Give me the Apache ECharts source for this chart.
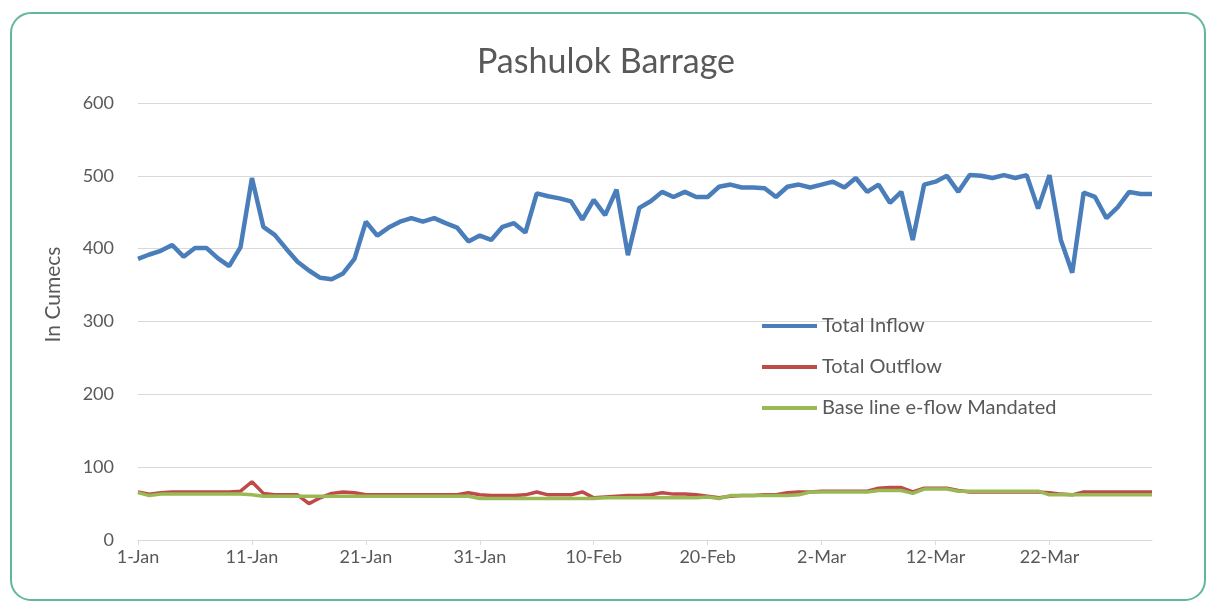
<!DOCTYPE html>
<html>
<head>
<meta charset="utf-8">
<title>Pashulok Barrage</title>
<script src="https://cdn.jsdelivr.net/npm/echarts@6/dist/echarts.min.js"></script>
<style>
  html, body { margin: 0; padding: 0; background: #fff; }
  #main { width: 1212px; height: 603px; }
</style>
</head>
<body>
<div id="main"></div>
<script>
// 日期: 1-Jan ~ 31-Mar
const months = ['Jan', 'Feb', 'Mar']
const monthDays = [31, 28, 31]
const dates = []
months.forEach((m, i) => {
  for (let d = 1; d <= monthDays[i]; d++) dates.push(d + '-' + m)
})

const yTicks = [0, 100, 200, 300, 400, 500, 600]

const totalInflow = [
  386, 392, 397, 405, 389, 401, 401, 387, 376, 402,
  497, 430, 419, 400, 382, 370, 360, 358, 366, 386,
  437, 418, 429, 437, 442, 437, 442, 435, 429, 410,
  418, 412, 430, 435, 422, 476, 472, 469, 465, 440,
  467, 446, 481, 391, 456, 465, 478, 471, 478, 471,
  471, 485, 488, 484, 484, 483, 471, 485, 488, 484,
  488, 492, 484, 497, 478, 488, 463, 478, 412, 488,
  492, 500, 478, 501, 500, 497, 501, 497, 501, 455,
  501, 412, 367, 477, 471, 442, 457, 478, 475, 475
]

const totalOutflow = [
  66, 63, 65, 66, 66, 66, 66, 66, 66, 67,
  80, 64, 62, 62, 62, 50, 58, 64, 66, 65,
  62, 62, 62, 62, 62, 62, 62, 62, 62, 65,
  62, 61, 61, 61, 62, 66, 62, 62, 62, 66,
  58, 59, 60, 61, 61, 62, 65, 63, 63, 62,
  60, 58, 60, 61, 61, 62, 62, 65, 66, 66,
  67, 67, 67, 67, 67, 71, 72, 72, 66, 71,
  71, 71, 68, 66, 66, 66, 66, 66, 66, 66,
  65, 63, 62, 66, 66, 66, 66, 66, 66, 66
]

const baseline = [
  65, 61, 63, 63, 63, 63, 63, 63, 63, 63,
  62, 60, 60, 60, 60, 60, 60, 60, 60, 60,
  60, 60, 60, 60, 60, 60, 60, 60, 60, 60,
  57, 57, 57, 57, 57, 57, 57, 57, 57, 57,
  57, 58, 58, 58, 58, 58, 58, 58, 58, 58,
  59, 57, 61, 61, 61, 61, 61, 61, 62, 66,
  66, 66, 66, 66, 66, 68, 68, 68, 64, 70,
  70, 70, 67, 67, 67, 67, 67, 67, 67, 67,
  62, 62, 62, 62, 62, 62, 62, 62, 62, 62
]

const seriesNames = ['Total Inflow', 'Total Outflow', 'Base line e-flow Mandated']
const colorList = ['#4a7ebb', '#be4b48', '#98b954']
const fontName = 'Lato, "Liberation Sans", sans-serif'
const textColor = '#595959'

var myChart = echarts.init(document.getElementById('main'))
var option = {
  color: colorList,
  animation: false,
  textStyle: { fontFamily: fontName },
  title: {
    text: 'Pashulok Barrage',
    left: 'center',
    top: 40,
    textStyle: { fontSize: 34, fontWeight: 'normal', color: textColor, fontFamily: fontName }
  },
  legend: {
    orient: 'vertical',
    left: 757,
    top: 311,
    itemGap: 21,
    itemWidth: 55,
    itemHeight: 4,
    icon: 'rect',
    textStyle: { fontSize: 20, color: textColor },
    data: seriesNames
  },
  grid: { left: 138, right: 60, top: 103, bottom: 63 },
  xAxis: {
    type: 'category',
    boundaryGap: false,
    data: dates,
    axisLine: { lineStyle: { color: '#d9d9d9', width: 1 } },
    axisTick: { show: true, interval: 9, length: 5, lineStyle: { color: '#d9d9d9' } },
    axisLabel: { interval: 9, fontSize: 18, color: textColor, margin: 8 },
    splitLine: { show: false }
  },
  yAxis: {
    type: 'value',
    min: yTicks[0],
    max: yTicks[yTicks.length - 1],
    interval: 100,
    name: 'In Cumecs',
    nameLocation: 'middle',
    nameGap: 74,
    nameTextStyle: { fontSize: 21, color: textColor, padding: [0, 0, 0, 54] },
    axisLine: { show: false },
    axisTick: { show: false },
    axisLabel: { fontSize: 18, color: textColor, margin: 24 },
    splitLine: { lineStyle: { color: '#d9d9d9', width: 1 } }
  },
  series: [
    { name: seriesNames[0], type: 'line', data: totalInflow, symbol: 'none', lineStyle: { width: 4.5 }, z: 3 },
    { name: seriesNames[1], type: 'line', data: totalOutflow, symbol: 'none', lineStyle: { width: 3.5 }, z: 2 },
    { name: seriesNames[2], type: 'line', data: baseline, symbol: 'none', lineStyle: { width: 3.5 }, z: 2 }
  ],
  graphic: [{
    type: 'rect',
    shape: { x: 11, y: 13, width: 1194, height: 587, r: 20 },
    style: { fill: 'none', stroke: '#62b69d', lineWidth: 2 },
    silent: true
  }]
}
myChart.setOption(option)
</script>
</body>
</html>
